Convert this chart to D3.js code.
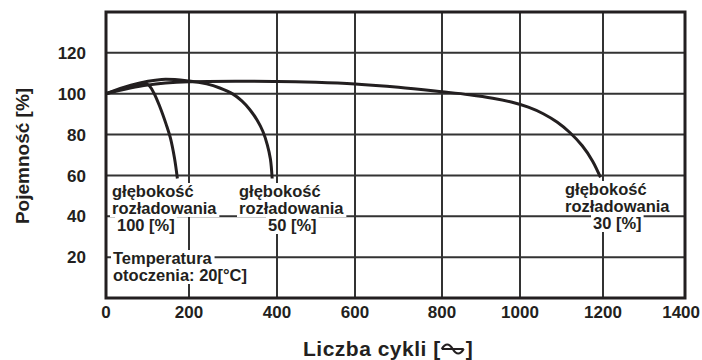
<!DOCTYPE html>
<html>
<head>
<meta charset="utf-8">
<script src="https://cdn.jsdelivr.net/npm/d3@7.9.0/dist/d3.min.js"></script>
<style>
  body { margin: 0; background: #fff; }
  text { font-family: "Liberation Sans", Arial, sans-serif; font-weight: bold; fill: #231f20; }
</style>
</head>
<body>
<svg id="chart" width="702" height="360"></svg>
<script>
// tick values
const xTicks = [0, 200, 400, 600, 800, 1000, 1200, 1400];
const yTicks = [20, 40, 60, 80, 100, 120];

// capacity [%] vs number of cycles, one list per depth of discharge
const dod100 = [[0, 100], [50, 103], [90, 104.8], [102, 104.4], [115, 100.5], [130, 93.5], [145, 85], [155, 78.5], [165, 68.5], [172, 58.5]];
const dod50 = [[0, 100], [60, 104.2], [134, 107], [200, 106.2], [240, 104.8], [270, 102.8], [300, 99.8], [320, 96.5], [338, 92.3], [355, 87], [368, 81.5], [378, 75], [385, 68], [389, 58.5]];
const dod30 = [[0, 100], [100, 104.2], [200, 105.8], [400, 106], [500, 105.6], [600, 104.8], [700, 103.2], [800, 101], [870, 99.5], [930, 97.8], [980, 95.8], [1020, 93.4], [1056, 90.2], [1090, 86], [1120, 81], [1150, 74.5], [1175, 67], [1194, 59]];

const curveLabels = [
  ["głębokość", "rozładowania", "100 [%]"],
  ["głębokość", "rozładowania", "50 [%]"],
  ["głębokość", "rozładowania", "30 [%]"],
  ["Temperatura", "otoczenia: 20[°C]"]
];

// where each annotation line sits (layout only)
const labelPos = [
  [[112, 197], [112, 214], [117, 231]],
  [[239, 197], [239, 214], [268, 231]],
  [[565, 195], [565, 212], [593, 229]],
  [[113, 264], [113, 281]]
];

const svg = d3.select('#chart');
const ink = '#231f20';

// the printed grid is slightly uneven, so the x scale follows its lines
let x = d3.scaleLinear().domain(xTicks).range([106, 189, 277, 355, 442, 520, 603, 685]);
let y = d3.scaleLinear().domain([0, 140]).range([298, 12]);

// grid
svg.append('g')
  .selectAll('line')
  .data(xTicks.slice(1, -1))
  .join('line')
  .attr('x1', d => x(d)).attr('x2', d => x(d))
  .attr('y1', y(0)).attr('y2', y(140))
  .attr('stroke', '#333').attr('stroke-width', 2);

svg.append('g')
  .selectAll('line')
  .data(yTicks)
  .join('line')
  .attr('x1', x(0)).attr('x2', x(1400))
  .attr('y1', d => y(d)).attr('y2', d => y(d))
  .attr('stroke', '#333').attr('stroke-width', 2);

svg.append('rect')
  .attr('x', x(0)).attr('y', y(140))
  .attr('width', x(1400) - x(0)).attr('height', y(0) - y(140))
  .attr('fill', 'none').attr('stroke', ink).attr('stroke-width', 3);

// tick labels
svg.append('g')
  .selectAll('text')
  .data(xTicks)
  .join('text')
  .attr('x', (d, i) => i === xTicks.length - 1 ? 700 : x(d)).attr('y', 318)
  .attr('text-anchor', (d, i) => i === xTicks.length - 1 ? 'end' : 'middle')
  .attr('font-size', 17)
  .text(d => d);

svg.append('g')
  .selectAll('text')
  .data(yTicks)
  .join('text')
  .attr('x', 86).attr('y', d => y(d))
  .attr('dy', '0.36em')
  .attr('text-anchor', 'end')
  .attr('font-size', 17)
  .text(d => d);

// curves
let line = d3.line()
  .x(d => x(d[0]))
  .y(d => y(d[1]))
  .curve(d3.curveCatmullRom.alpha(0.5));

[dod100, dod50, dod30].forEach(series => {
  svg.append('path')
    .attr('d', line(series))
    .attr('fill', 'none')
    .attr('stroke', ink)
    .attr('stroke-width', 3);
});

// annotations with white backing so the grid breaks behind them
curveLabels.forEach((lines, i) => {
  let g = svg.append('g');
  let bgLayer = g.append('g');
  let txtLayer = g.append('g');
  lines.forEach((txt, j) => {
    let [lx, ly] = labelPos[i][j];
    let t = txtLayer.append('text')
      .attr('x', lx).attr('y', ly)
      .attr('font-size', 16.5)
      .text(txt);
    let b = t.node().getBBox();
    bgLayer.append('rect').attr('fill', '#fff')
      .attr('x', b.x - 2).attr('y', b.y + 1)
      .attr('width', b.width + 4).attr('height', b.height - 1);
  });
});

// axis titles
svg.append('text')
  .attr('transform', 'translate(29,156) rotate(-90)')
  .attr('text-anchor', 'middle')
  .attr('font-size', 19)
  .text('Pojemność [%]');

let xt = svg.append('text')
  .attr('x', 303).attr('y', 356)
  .attr('font-size', 21)
  .attr('letter-spacing', 0.5)
  .text('Liczba cykli [');
let w = xt.node().getComputedTextLength();
let sx = 303 + w + 1;
let sy = 349;
// cycle symbol: one sine period over a base line
svg.append('path')
  .attr('d', `M${sx},${sy} Q${sx + 5.5},${sy - 9} ${sx + 11},${sy} Q${sx + 16.5},${sy + 9} ${sx + 22},${sy} M${sx},${sy} H${sx + 22}`)
  .attr('fill', 'none')
  .attr('stroke', ink)
  .attr('stroke-width', 2.2);
svg.append('text')
  .attr('x', sx + 24).attr('y', 356)
  .attr('font-size', 21)
  .text(']');
</script>
</body>
</html>
